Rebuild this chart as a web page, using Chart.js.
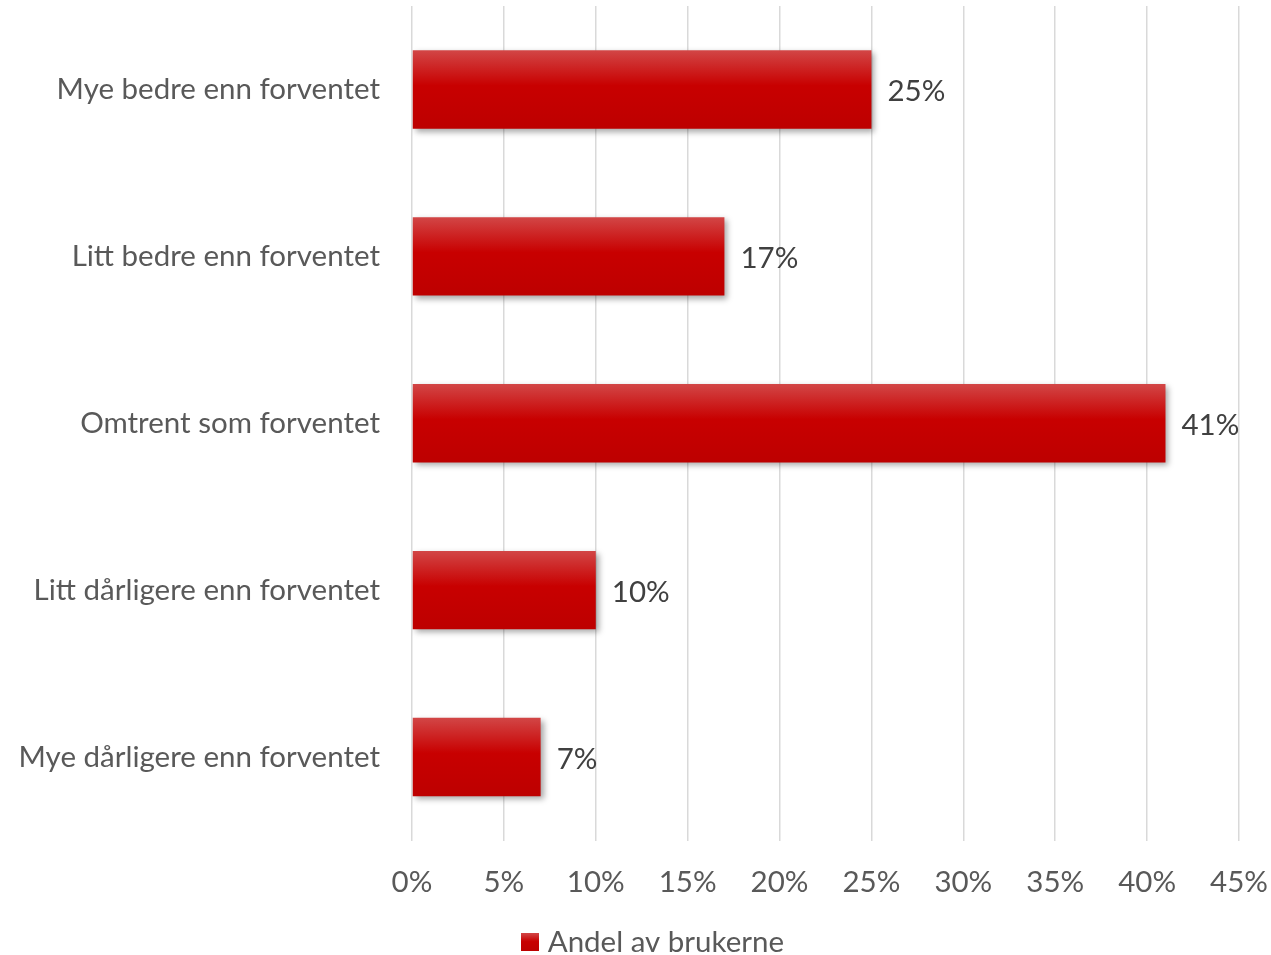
<!DOCTYPE html>
<html>
<head>
<meta charset="utf-8">
<script src="https://cdn.jsdelivr.net/npm/chart.js@4.4.1/dist/chart.umd.min.js"></script>
<style>
  html, body { margin: 0; padding: 0; background: #ffffff; }
  #wrap { width: 1271px; height: 955px; position: relative; }
</style>
</head>
<body>
<div id="wrap"><canvas id="chart"></canvas></div>
<script>
const categories = [
  'Mye bedre enn forventet',
  'Litt bedre enn forventet',
  'Omtrent som forventet',
  'Litt dårligere enn forventet',
  'Mye dårligere enn forventet'
];
const seriesName = 'Andel av brukerne';
const shares = [25, 17, 41, 10, 7];
const tickValues = [0, 5, 10, 15, 20, 25, 30, 35, 40, 45];

const FONT = 'Lato, "Open Sans", sans-serif';
const FONT_SIZE = 29.5;
const TEXT = '#595959';
const BAR_PCT = 0.47;

function redGradient(c, top, bottom) {
  const g = c.createLinearGradient(0, top, 0, bottom);
  g.addColorStop(0, '#d24646');
  g.addColorStop(0.45, '#c80000');
  g.addColorStop(1, '#bd0000');
  return g;
}

// vertical red gradient for each bar, lighter at the top edge
function barFill(ctx) {
  const chart = ctx.chart;
  const y = chart.scales && chart.scales.y;
  if (!chart.chartArea || !y || ctx.type !== 'data') return '#c00000';
  const center = y.getPixelForValue(ctx.dataIndex);
  const h = (y.height / categories.length) * BAR_PCT;
  if (!isFinite(center) || !isFinite(h) || h <= 0) return '#c00000';
  return redGradient(chart.ctx, center - h / 2, center + h / 2);
}

const legendSwatch = (function () {
  const c = document.createElement('canvas');
  c.width = 18; c.height = 18;
  const x = c.getContext('2d');
  x.fillStyle = redGradient(x, 0, 18);
  x.fillRect(0, 0, 18, 18);
  return c;
})();

// soft drop shadow under the bars
const barShadow = {
  id: 'barShadow',
  beforeDatasetsDraw(chart) {
    const c = chart.ctx;
    c.save();
    c.shadowColor = 'rgba(0,0,0,0.35)';
    c.shadowBlur = 6;
    c.shadowOffsetX = 3;
    c.shadowOffsetY = 3;
  },
  afterDatasetsDraw(chart) {
    chart.ctx.restore();
  }
};

// value labels to the right of each bar
const valueLabels = {
  id: 'valueLabels',
  afterDatasetsDraw(chart) {
    const c = chart.ctx;
    const meta = chart.getDatasetMeta(0);
    c.save();
    c.font = FONT_SIZE + 'px ' + FONT;
    c.fillStyle = '#404040';
    c.textAlign = 'left';
    c.textBaseline = 'middle';
    meta.data.forEach((bar, i) => {
      c.fillText(shares[i] + '%', bar.x + 16, bar.y + 2);
    });
    c.restore();
  }
};

// nudge the legend row to the right so it sits under the plot
const legendShift = {
  id: 'legendShift',
  afterLayout(chart) {
    if (chart.legend) {
      chart.legend.left += 36;
      chart.legend.right += 36;
    }
  }
};

new Chart(document.getElementById('chart'), {
  type: 'bar',
  data: {
    labels: categories,
    datasets: [{
      label: seriesName,
      data: shares,
      backgroundColor: barFill,
      borderWidth: 0,
      categoryPercentage: 1,
      barPercentage: BAR_PCT
    }]
  },
  options: {
    indexAxis: 'y',
    responsive: true,
    maintainAspectRatio: false,
    animation: false,
    layout: { padding: { top: 6, right: 32, left: 0, bottom: -12 } },
    scales: {
      x: {
        min: 0,
        max: 45,
        afterBuildTicks(axis) { axis.ticks = tickValues.map(v => ({ value: v })); },
        grid: { color: '#d9d9d9', lineWidth: 1.5, drawTicks: false },
        border: { display: false },
        ticks: {
          padding: 24,
          color: TEXT,
          font: { family: FONT, size: FONT_SIZE },
          callback: v => v + '%'
        },
        afterFit(axis) {
          axis.height = 82;
          axis.paddingLeft = 0;
          axis.paddingRight = 0;
        }
      },
      y: {
        grid: { display: false, drawTicks: false },
        border: { display: false },
        ticks: {
          padding: 32,
          color: TEXT,
          font: { family: FONT, size: FONT_SIZE }
        },
        afterFit(axis) {
          axis.width = 412;
          axis.paddingTop = 0;
          axis.paddingBottom = 0;
        }
      }
    },
    plugins: {
      legend: {
        position: 'bottom',
        labels: {
          color: TEXT,
          font: { family: FONT, size: FONT_SIZE },
          usePointStyle: true,
          pointStyle: legendSwatch,
          pointStyleWidth: 6,
          boxHeight: 18,
          padding: 5
        }
      },
      tooltip: { enabled: false }
    }
  },
  plugins: [barShadow, valueLabels, legendShift]
});
</script>
</body>
</html>
